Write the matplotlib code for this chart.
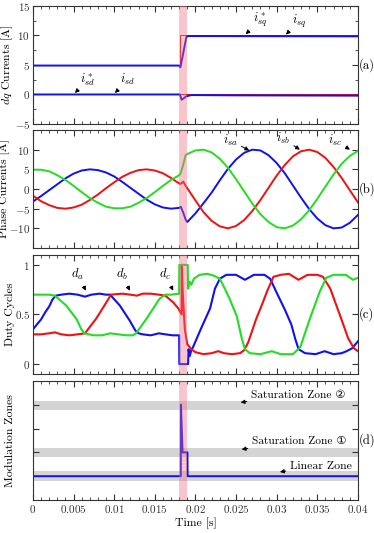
import numpy as np
import matplotlib.pyplot as plt
from matplotlib.ticker import MultipleLocator, FuncFormatter, FixedLocator

plt.rcParams['font.family'] = ['cmr10', 'DejaVu Sans', 'Noto Sans CJK JP']
plt.rcParams['mathtext.fontset'] = 'cm'
plt.rcParams['axes.formatter.use_mathtext'] = True
plt.rcParams['font.size'] = 8.5

BLUE = '#1010f0'
RED = '#f01010'
GREEN = '#22dd22'

# (a) dq currents, time in ms
t_sq = [0, 18.0, 18.15, 18.9, 19.2, 40]
i_sq = [4.9, 4.9, 4.6, 9.8, 9.9, 9.85]
t_sq_ref = [0, 18.05, 18.05, 40]
i_sq_ref = [5, 5, 10, 10]
t_sd = [0, 18.1, 18.3, 18.9, 19.5, 25, 40]
i_sd = [0, 0, -0.9, -0.3, -0.1, -0.15, -0.2]
t_sd_ref = [0, 40]
i_sd_ref = [0, 0]

# (b) phase currents
t_ph = [0, 1, 2, 3, 4, 5, 6, 7, 8, 9, 10, 11, 12, 13, 14, 15, 16, 17, 18,
        18.2, 18.5, 18.8,
        19, 20, 21, 22, 23, 24, 25, 26, 27, 28, 29, 30, 31, 32, 33, 34, 35,
        36, 37, 38, 39, 40]
i_sa = [-3.2, -1.8, -0.3, 1.2, 2.7, 3.9, 4.7, 5.0, 4.8, 4.2, 3.2, 1.8, 0.3,
        -1.2, -2.7, -3.9, -4.7, -5.0, -4.8,
        -4.5, -6.0, -7.8,
        -8.4, -6.2, -3.6, -0.9, 2.2, 5.1, 7.5, 9.2, 10.0, 9.8, 8.6, 6.6, 4.0,
        0.9, -2.2, -5.1, -7.5, -9.2, -10.0, -9.8, -8.6, -6.6]
i_sb = [-1.7, -3.1, -4.1, -4.8, -5.0, -4.7, -4.0, -2.8, -1.4, 0.2, 1.7, 3.1,
        4.1, 4.8, 5.0, 4.7, 4.0, 2.8, 1.4,
        1.3, 1.9, 0.8,
        0.2, -2.9, -5.9, -8.1, -9.5, -10.0, -9.4, -7.9, -5.6, -2.8, 0.3, 3.4,
        6.1, 8.3, 9.6, 10.0, 9.4, 7.9, 5.6, 2.8, -0.3, -3.4]
i_sc = [4.9, 4.9, 4.5, 3.5, 2.3, 0.8, -0.8, -2.3, -3.5, -4.5, -4.9, -4.9,
        -4.5, -3.5, -2.3, -0.8, 0.8, 2.3, 3.5,
        4.1, 6.2, 8.6,
        8.9, 9.8, 10.0, 9.3, 7.7, 5.4, 2.5, -0.6, -3.7, -6.4, -8.4, -9.7,
        -10.0, -9.3, -7.7, -5.4, -2.5, 0.6, 3.7, 6.4, 8.4, 9.7]

# (c) duty cycles
t_da = [0, 0.5, 1.0, 1.5, 2.0, 2.4, 2.8, 3.5, 4.5, 5.5, 6.4, 7.2, 8.2, 9.0,
        9.5, 10.7, 11.9, 12.6, 13.0, 13.5, 14.5, 15.5, 16.3, 17.2, 18.0,
        18.02, 19.1, 19.15, 19.3, 19.5, 19.7, 20.7, 21.8, 22.4, 23.0, 23.8,
        25.0, 26.1, 27.2, 28.5, 29.2, 30.0, 31.0, 31.8, 32.3, 32.7, 33.5,
        34.8, 35.9, 37.0, 38.0, 38.6, 39.3, 40.0]
d_a = [0.35, 0.40, 0.45, 0.52, 0.58, 0.65, 0.69, 0.70, 0.71, 0.70, 0.68,
       0.70, 0.71, 0.70, 0.70, 0.59, 0.44, 0.34, 0.31, 0.30, 0.29, 0.31,
       0.30, 0.29, 0.29,
       0.0, 0.0, 0.15, 0.08, 0.14, 0.17, 0.36, 0.56, 0.76, 0.86, 0.90,
       0.90, 0.85, 0.90, 0.90, 0.86, 0.72, 0.55, 0.40, 0.25, 0.15, 0.11,
       0.10, 0.13, 0.10, 0.11, 0.13, 0.16, 0.23]
t_db = [0, 1.0, 2.0, 2.7, 3.5, 4.5, 5.5, 6.4, 7.8, 9.1, 9.6, 11.0, 12.0,
        12.8, 13.5, 14.5, 15.5, 16.3, 17.3, 17.9, 18.3,
        18.32, 18.45, 18.7, 19.0, 19.5, 20.0, 21.0, 22.0, 22.8, 23.5, 24.5,
        25.5, 26.0, 26.5, 27.5, 28.2, 28.8, 29.6, 30.5, 31.5, 32.7, 33.8,
        35.0, 35.7, 36.6, 37.8, 38.8, 39.5, 40.0]
d_b = [0.30, 0.30, 0.31, 0.32, 0.30, 0.29, 0.30, 0.31, 0.46, 0.63, 0.70,
       0.71, 0.70, 0.69, 0.71, 0.71, 0.70, 0.69, 0.62, 0.56, 0.50,
       1.0, 0.70, 0.35, 0.20, 0.15, 0.12, 0.10, 0.11, 0.13, 0.11, 0.10,
       0.11, 0.14, 0.22, 0.46, 0.60, 0.73, 0.88, 0.90, 0.91, 0.85, 0.90,
       0.90, 0.88, 0.76, 0.49, 0.26, 0.16, 0.13]
t_dc = [0, 1.0, 2.0, 2.7, 4.1, 5.4, 5.9, 6.3, 7.5, 8.5, 9.5, 10.5, 11.5,
        12.3, 12.7, 14.0, 15.6, 16.3, 17.0, 18.0,
        18.02, 19.05, 19.1, 19.3, 19.5, 19.8, 20.5, 21.5, 22.3, 23.0, 23.5,
        24.2, 25.1, 25.7, 26.1, 26.7, 28.0, 29.4, 30.5, 32.0, 32.9, 34.1,
        35.3, 36.1, 37.0, 38.5, 39.4, 40.0]
d_c = [0.70, 0.70, 0.70, 0.69, 0.59, 0.45, 0.36, 0.31, 0.29, 0.29, 0.31,
       0.30, 0.29, 0.29, 0.31, 0.46, 0.66, 0.70, 0.70, 0.71,
       1.0, 1.0, 0.76, 0.83, 0.80, 0.86, 0.90, 0.91, 0.89, 0.86, 0.78,
       0.66, 0.48, 0.26, 0.15, 0.11, 0.10, 0.13, 0.10, 0.10, 0.17, 0.46,
       0.73, 0.87, 0.90, 0.90, 0.85, 0.87]

# (d) modulation zone: 1 = linear, 2 = saturation 1, 4 = saturation 2
t_zone = [0, 18.2, 18.22, 18.42, 19.02, 19.04, 40]
zone = [1, 1, 4, 2, 2, 1, 1]

fig = plt.figure(figsize=(3.74, 5.33), dpi=100)
left, width = 0.088, 0.869
boxes = [(0.7674, 0.2214), (0.5347, 0.2214), (0.2983, 0.2233), (0.0619, 0.2233)]
axes = [fig.add_axes([left, b, width, h]) for b, h in boxes]

fmt = FuncFormatter(lambda v, p: '$%g$' % v)
arrow = dict(arrowstyle='-|>', color='k', lw=0.7, mutation_scale=6,
             shrinkA=1, shrinkB=0)

for ax, tag in zip(axes, ['(a)', '(b)', '(c)', '(d)']):
    ax.set_xlim(0, 0.04)
    ax.xaxis.set_major_locator(MultipleLocator(0.005))
    ax.xaxis.set_minor_locator(MultipleLocator(0.001))
    ax.tick_params(which='both', direction='in', top=True, right=True,
                   colors='#333333', labelsize=8, pad=2)
    ax.tick_params(which='major', length=4)
    ax.tick_params(which='minor', length=2)
    for s in ax.spines.values():
        s.set_color('#333333')
        s.set_linewidth(0.8)
    ax.axvspan(0.018, 0.019, color='#f07080', alpha=0.4, lw=0, zorder=5)
    ax.text(1.003, 0.5, tag, transform=ax.transAxes, ha='left', va='center',
            fontsize=9)
    ax.yaxis.set_major_formatter(fmt)
    ax.yaxis.set_label_coords(-0.056, 0.5)
    if ax is not axes[-1]:
        ax.set_xticklabels([])

ms = lambda t: np.array(t) / 1000.0

# (a)
ax = axes[0]
ax.plot(ms(t_sq_ref), i_sq_ref, color=RED, lw=0.7)
ax.plot(ms(t_sd_ref), i_sd_ref, color=RED, lw=0.7)
ax.plot(ms(t_sq), i_sq, color=BLUE, lw=1.4)
ax.plot(ms(t_sd), i_sd, color=BLUE, lw=1.4)
ax.set_ylim(-5, 15)
ax.yaxis.set_major_locator(MultipleLocator(5))
ax.yaxis.set_minor_locator(MultipleLocator(2.5))
ax.set_ylabel('$dq$ Currents [A]')
ax.annotate(r'$i^*_{sq}$', xy=(0.02618, 10.2), xytext=(0.02794, 12.6),
            ha='center', va='center', fontsize=9, arrowprops=arrow)
ax.annotate(r'$i_{sq}$', xy=(0.03114, 10.15), xytext=(0.03274, 12.4),
            ha='center', va='center', fontsize=9, arrowprops=arrow)
ax.annotate(r'$i^*_{sd}$', xy=(0.00517, 0.25), xytext=(0.00677, 2.5),
            ha='center', va='center', fontsize=9, arrowprops=arrow)
ax.annotate(r'$i_{sd}$', xy=(0.01009, 0.25), xytext=(0.01169, 2.5),
            ha='center', va='center', fontsize=9, arrowprops=arrow)

# (b)
ax = axes[1]
ax.plot(ms(t_ph), i_sa, color=BLUE, lw=1.4)
ax.plot(ms(t_ph), i_sb, color=RED, lw=1.4)
ax.plot(ms(t_ph), i_sc, color=GREEN, lw=1.4)
ax.set_ylim(-15, 15)
ax.yaxis.set_major_locator(FixedLocator([-10, -5, 0, 5, 10]))
ax.set_ylabel('Phase Currents [A]')
ax.yaxis.set_label_coords(-0.07, 0.5)
ax.annotate(r'$i_{sa}$', xy=(0.02662, 9.8), xytext=(0.02425, 12.4),
            ha='center', va='center', fontsize=9, arrowprops=arrow)
ax.annotate(r'$i_{sb}$', xy=(0.03286, 10.0), xytext=(0.03077, 12.8),
            ha='center', va='center', fontsize=9, arrowprops=arrow)
ax.annotate(r'$i_{sc}$', xy=(0.03902, 10.0), xytext=(0.03717, 12.4),
            ha='center', va='center', fontsize=9, arrowprops=arrow)

# (c)
ax = axes[2]
ax.plot(ms(t_da), d_a, color=BLUE, lw=1.5)
ax.plot(ms(t_db), d_b, color=RED, lw=1.5)
ax.plot(ms(t_dc), d_c, color=GREEN, lw=1.5)
ax.set_ylim(-0.1, 1.1)
ax.yaxis.set_major_locator(FixedLocator([0, 0.5, 1]))
ax.set_ylabel('Duty Cycles')
ax.annotate(r'$d_a$', xy=(0.00652, 0.74), xytext=(0.00554, 0.9),
            ha='center', va='center', fontsize=9, arrowprops=arrow)
ax.annotate(r'$d_b$', xy=(0.01194, 0.74), xytext=(0.01092, 0.9),
            ha='center', va='center', fontsize=9, arrowprops=arrow)
ax.annotate(r'$d_c$', xy=(0.01727, 0.74), xytext=(0.01625, 0.9),
            ha='center', va='center', fontsize=9, arrowprops=arrow)

# (d)
ax = axes[3]
for lo, hi in [(3.8, 4.18), (1.82, 2.19), (0.8, 1.22)]:
    ax.axhspan(lo, hi, color='#d4d4d4', lw=0, zorder=0)
ax.plot(ms(t_zone), zone, color=BLUE, lw=1.4)
ax.set_ylim(0, 5)
ax.yaxis.set_major_locator(FixedLocator([1, 2, 3, 4]))
ax.set_yticklabels([])
ax.set_ylabel('Modulation Zones')
ax.xaxis.set_major_formatter(fmt)
ax.set_xlabel('Time [s]', labelpad=2)
ax.annotate('Saturation Zone \u2461', xy=(0.02556, 4.1), xytext=(0.02683, 4.42),
            ha='left', va='center', fontsize=8.2, arrowprops=arrow)
ax.annotate('Saturation Zone \u2460', xy=(0.02569, 2.13), xytext=(0.02695, 2.46),
            ha='left', va='center', fontsize=8.2, arrowprops=arrow)
ax.annotate('Linear Zone', xy=(0.0304, 1.18), xytext=(0.03163, 1.42),
            ha='left', va='center', fontsize=8.5, arrowprops=arrow)

fig.savefig('out.png', dpi=100)
